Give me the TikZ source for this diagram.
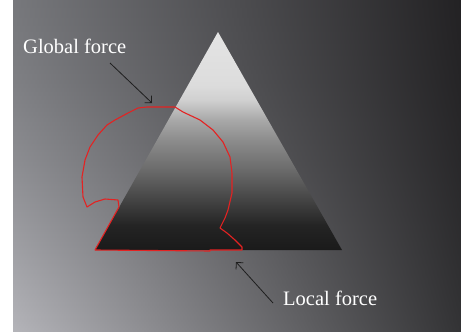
\documentclass[tikz,border=0pt]{standalone}
\usepackage{fontspec}
\setmainfont{Liberation Serif}
\usetikzlibrary{arrows.meta}
\definecolor{bgTL}{HTML}{77787C}
\definecolor{bgTR}{HTML}{232224}
\definecolor{bgBL}{HTML}{B4B4B9}
\definecolor{bgBR}{HTML}{333335}
\definecolor{trA}{HTML}{1A1A1A}
\definecolor{trB}{HTML}{242424}
\definecolor{trC}{HTML}{4A4A4A}
\definecolor{trD}{HTML}{6A6A6A}
\definecolor{trE}{HTML}{8C8C8C}
\definecolor{trF}{HTML}{A8A8A8}
\definecolor{trG}{HTML}{D0D0D0}
\definecolor{trH}{HTML}{DCDCDC}
\definecolor{trI}{HTML}{E4E4E4}
\definecolor{contour}{HTML}{E42222}
\definecolor{arrowcol}{HTML}{1E1E1E}
\pgfdeclareverticalshading{trishade}{100bp}{color(0bp)=(trA); color(25bp)=(trA); color(30.7bp)=(trB); color(37.6bp)=(trC); color(43.3bp)=(trD); color(50.2bp)=(trE); color(54.8bp)=(trF); color(59.4bp)=(trG); color(62.8bp)=(trH); color(75bp)=(trI); color(100bp)=(trI)}
\tikzset{
  lab/.style={text=white, font=\fontsize{20.5}{22}\selectfont, inner sep=0pt, anchor=base west},
  pointer/.style={draw=arrowcol, line width=0.8pt, -{Straight Barb[length=5pt,width=10pt]}},
  contourline/.style={draw=contour, line width=1.1pt, line join=round}
}
\begin{document}
\begin{tikzpicture}[x=1pt,y=-1pt]
\useasboundingbox (0,0) rectangle (461,332);
\fill[white] (0,0) rectangle (461,332);
\foreach \i in {0,...,165} {
  \pgfmathsetmacro\yy{2*\i}
  \pgfmathtruncatemacro\tt{round(100*((\yy+1)/332)^1.45)}
  \shade[left color=bgBL!\tt!bgTL, right color=bgBR!\tt!bgTR] (13,\yy) rectangle (461,\yy+2.6);
}
\shade[shading=trishade] (218,32) -- (342,250) -- (95,250) -- cycle;
\path[contourline] (95,250) -- (119,207) -- (118,200) -- (105,199) -- (95,202) -- (87,207)
  -- (83,197) -- (82,177) -- (85,160) -- (90,147) -- (98,135) -- (107,125) -- (115,120)
  -- (128,113) -- (138,108) -- (147,107) -- (175,107) -- (183,112) -- (200,120) -- (213,130)
  -- (223,142) -- (230,157) -- (232,173) -- (232,193) -- (228,210) -- (225,218) -- (220,228)
  -- (227,233) -- (235,240) -- (242,247) -- (242,250) -- (210,250) -- (210,251) -- cycle;
\node[lab] (glob) at (23,53) {Global force};
\node[lab] (loc) at (283,305) {Local force};
\coordinate (gs) at (110,63);
\coordinate (ge) at (152,103);
\coordinate (ls) at (273,303);
\coordinate (le) at (236,262);
\draw[pointer] (gs) -- (ge);
\draw[pointer] (ls) -- (le);
\end{tikzpicture}
\end{document}
